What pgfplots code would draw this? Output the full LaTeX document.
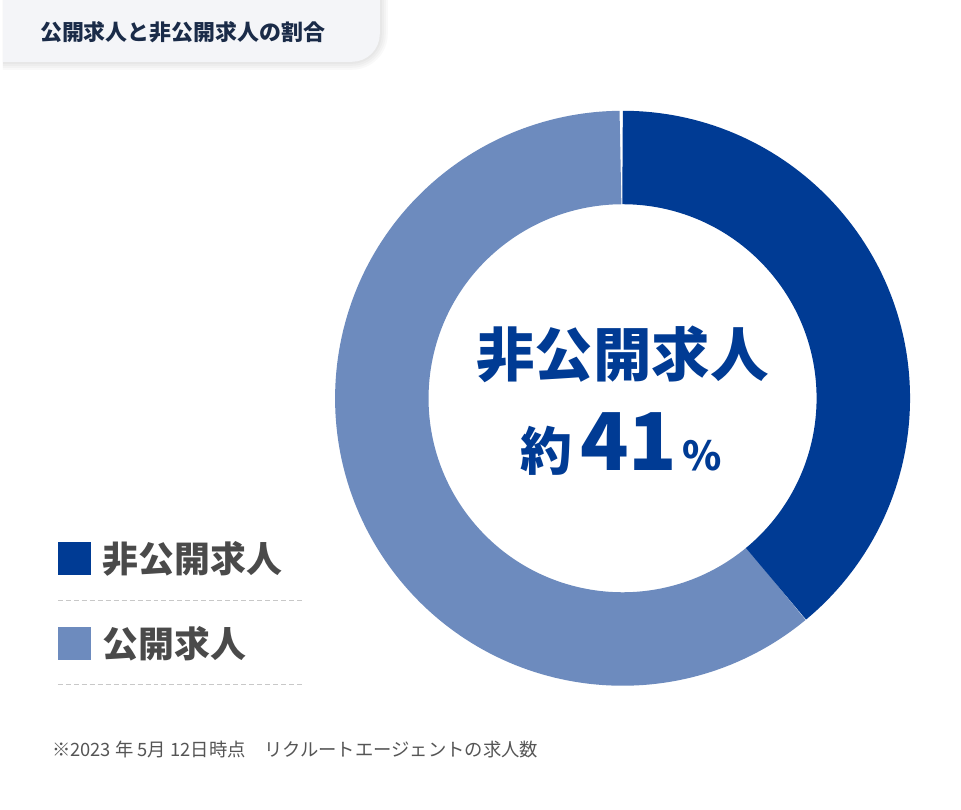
\documentclass[border=0pt]{standalone}
\usepackage{pgfplots}
\pgfplotsset{compat=1.18}
\usepackage{pgfplotstable}
\usepackage{fontspec}
\setmainfont{Noto Sans CJK JP}
\definecolor{darkblue}{HTML}{003B94}
\definecolor{lightblue}{HTML}{6D8BBE}
\definecolor{tabgray}{HTML}{F4F5F8}
\definecolor{titlenavy}{HTML}{1A2B48}
\definecolor{legendgray}{HTML}{4A4A4A}
\definecolor{notegray}{HTML}{555555}
\definecolor{dashgray}{HTML}{C8C8C8}

\pgfplotstableread{
label value
nonpublic 39
public 61
}\sharetable

\begin{document}
\pgfplotstablegetelem{0}{value}\of\sharetable
\let\vA\pgfplotsretval
\pgfmathsetmacro{\aEnd}{90-\vA*3.6}
\begin{tikzpicture}
\begin{axis}[scale only axis, width=720.75pt, height=609pt,
  xmin=0, xmax=961, ymin=0, ymax=812, y dir=reverse,
  hide axis, clip=false]
% canvas
\fill[white] (axis cs:0,0) rectangle (axis cs:961,812);
% tab shadow
\pgfplotsinvokeforeach{2,4,6,8}{
  \fill[black, opacity=0.025] (axis cs:0,0) -- (axis cs:378+#1,0) -- (axis cs:378+#1,34) arc[start angle=0,end angle=-90,radius=21pt+0.75*#1 pt] -- (axis cs:0,62+#1) -- cycle;
}
\fill[tabgray] (axis cs:0,0) -- (axis cs:378,0) -- (axis cs:378,34) arc[start angle=0,end angle=-90,radius=21pt] -- (axis cs:0,62) -- cycle;
\node[anchor=west, text=titlenavy, inner sep=0pt] at (axis cs:37,32) {\fontsize{16.5pt}{18pt}\selectfont\bfseries 公開求人と非公開求人の割合};
% donut
\draw[lightblue, line width=70.3125pt] (axis cs:621.5,399.5) ++(\aEnd:181.125pt) arc[start angle=\aEnd, end angle=-269.5, radius=181.125pt];
\draw[darkblue, line width=70.3125pt] (axis cs:621.5,399.5) ++(90:181.125pt) arc[start angle=90, end angle=\aEnd, radius=181.125pt];
% center text
\node[anchor=center, text=darkblue, inner sep=0pt] at (axis cs:621.5,355) {\fontsize{44pt}{48pt}\selectfont\bfseries 非公開求人};
\node[anchor=base, text=darkblue, inner sep=0pt] at (axis cs:620,472) {\bfseries{\fontsize{39pt}{42pt}\selectfont 約}\hspace{6pt}{\fontsize{60pt}{64pt}\selectfont 41}\hspace{4pt}{\fontsize{30pt}{34pt}\selectfont \%}};
% legend
\fill[darkblue] (axis cs:55,544) rectangle (axis cs:88,577);
\fill[lightblue] (axis cs:55,629) rectangle (axis cs:88,662);
\node[anchor=west, text=legendgray, inner sep=0pt] at (axis cs:100,561) {\fontsize{27pt}{30pt}\selectfont\bfseries 非公開求人};
\node[anchor=west, text=legendgray, inner sep=0pt] at (axis cs:100,646) {\fontsize{27pt}{30pt}\selectfont\bfseries 公開求人};
\draw[dashgray, line width=0.75pt, dash pattern=on 3.75pt off 2.25pt] (axis cs:55,602) -- (axis cs:302,602);
\draw[dashgray, line width=0.75pt, dash pattern=on 3.75pt off 2.25pt] (axis cs:55,687) -- (axis cs:302,687);
% footnote
\node[anchor=west, text=notegray, inner sep=0pt] at (axis cs:49,752) {\fontsize{13.8pt}{15pt}\selectfont ※2023 年 5月 12日時点　リクルートエージェントの求人数};
\end{axis}
\end{tikzpicture}
\end{document}
